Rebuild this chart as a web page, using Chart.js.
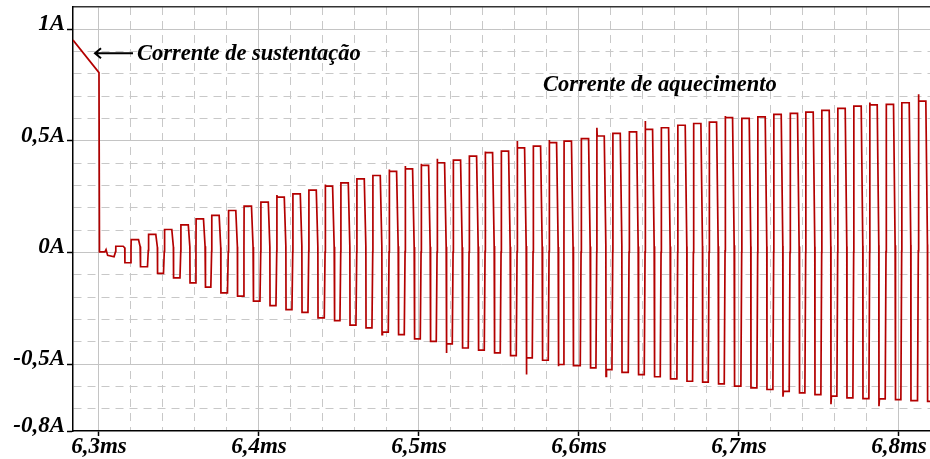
<!doctype html>
<html>

<head>
    <title>Corrente de sustentação / aquecimento</title>
    <script src="https://cdn.jsdelivr.net/npm/chart.js@4.4.1/dist/chart.umd.min.js"></script>
    <style>
    body { margin: 0; background: #fff; }
    </style>
</head>

<body>
    <canvas id="canvas" width="930" height="459"></canvas>
    <script>
    // axis range (ms, A)
    var xMin = 6.28375, xMax = 6.8194;
    var yMin = -0.8, yMax = 1.1;

    // tick labels
    var xTickValues = [6.3, 6.4, 6.5, 6.6, 6.7, 6.8];
    var xTickLabels = ['6,3ms', '6,4ms', '6,5ms', '6,6ms', '6,7ms', '6,8ms'];
    var yTickValues = [-0.8, -0.5, 0, 0.5, 1];
    var yTickLabels = ['-0,8A', '-0,5A', '0A', '0,5A', '1A'];

    // holding current before the pulses start
    var leadTimes  = [6.28375, 6.3000, 6.3003, 6.3037, 6.3044, 6.3054, 6.3094];
    var leadValues = [0.952, 0.806, 0.003, 0.003, 0.013, -0.013, -0.019];

    // heating current: one entry per pulse
    var riseTimes = [6.3104, 6.3200, 6.3308, 6.3408, 6.3511, 6.3606, 6.3704, 6.3808, 6.3906, 6.4011,
                     6.4111, 6.4211, 6.4311, 6.4413, 6.4511, 6.4611, 6.4711, 6.4813, 6.4913, 6.5013,
                     6.5113, 6.5213, 6.5313, 6.5413, 6.5513, 6.5613, 6.5713, 6.5813, 6.5906, 6.6013,
                     6.6111, 6.6211, 6.6313, 6.6413, 6.6513, 6.6617, 6.6715, 6.6813, 6.6913, 6.7017,
                     6.7117, 6.7217, 6.7319, 6.7417, 6.7517, 6.7617, 6.7717, 6.7817, 6.7919, 6.8017,
                     6.8121];
    var highs = [0.028, 0.058, 0.081, 0.103, 0.124, 0.151, 0.166, 0.188, 0.208, 0.226,
                 0.248, 0.263, 0.279, 0.297, 0.312, 0.330, 0.345, 0.363, 0.375, 0.390,
                 0.402, 0.414, 0.432, 0.447, 0.454, 0.469, 0.477, 0.492, 0.499, 0.510,
                 0.522, 0.534, 0.540, 0.552, 0.559, 0.570, 0.578, 0.584, 0.604, 0.601,
                 0.608, 0.619, 0.623, 0.629, 0.637, 0.646, 0.656, 0.661, 0.664, 0.671,
                 0.678];
    var lows = [-0.046, -0.064, -0.094, -0.114, -0.136, -0.155, -0.181, -0.196, -0.218, -0.238,
                -0.256, -0.268, -0.293, -0.305, -0.326, -0.338, -0.357, -0.368, -0.387, -0.398,
                -0.410, -0.428, -0.438, -0.450, -0.462, -0.472, -0.483, -0.502, -0.507, -0.517,
                -0.525, -0.537, -0.547, -0.557, -0.566, -0.577, -0.581, -0.589, -0.599, -0.607,
                -0.614, -0.622, -0.629, -0.637, -0.644, -0.652, -0.655, -0.656, -0.659, -0.664,
                -0.667];
    // overshoots on the edges (null = none)
    var highSpikes = [null, null, null, null, null, null, null, null, null, null,
                      0.257, null, null, 0.305, null, null, null, 0.372, 0.387, 0.398,
                      0.420, null, null, 0.452, null, 0.499, null, 0.504, null, null,
                      0.559, null, null, 0.589, null, null, null, null, 0.611, null,
                      null, null, null, null, null, null, null, 0.672, null, null,
                      0.709];
    var lowSpikes = [null, null, null, null, null, null, null, null, null, null,
                     null, null, null, null, null, null, -0.368, null, null, null,
                     -0.450, null, null, null, null, -0.547, null, -0.510, null, null,
                     -0.555, null, null, null, null, null, null, null, null, null,
                     null, -0.646, null, null, -0.680, null, null, -0.689, null, null,
                     null];

    var annotations = [
        {text: 'Corrente de sustentação', x: 6.32375, y: 0.888, arrow: true},
        {text: 'Corrente de aquecimento', x: 6.5775, y: 0.749, arrow: false}
    ];

    // build the trace
    var trace = [];
    leadTimes.forEach(function(t, i) {
        trace.push({x: t, y: leadValues[i]});
    });
    riseTimes.forEach(function(tr, i) {
        var prevLow = i === 0 ? leadValues[leadValues.length - 1] : lows[i - 1];
        var hs = highSpikes[i] !== null ? highSpikes[i] : highs[i];
        var ls = lowSpikes[i] !== null ? lowSpikes[i] : lows[i];
        var tf = tr + 0.0047;
        trace.push({x: tr - 0.0005, y: prevLow});
        trace.push({x: tr, y: (prevLow + highs[i]) / 2});
        trace.push({x: tr + 0.0001, y: hs});
        trace.push({x: tr + 0.0003, y: highs[i]});
        trace.push({x: tf, y: highs[i]});
        trace.push({x: tf + 0.0010, y: (highs[i] + lows[i]) / 2 + 0.03});
        trace.push({x: tf + 0.0011, y: ls});
        trace.push({x: tf + 0.0014, y: lows[i]});
    });
    trace.push({x: xMax, y: lows[lows.length - 1]});

    // grid positions
    var xGrid = [], yGrid = [];
    for (var i = 630; i <= 682; i += 2) xGrid.push(i / 100);
    for (var j = -8; j <= 11; j++) yGrid.push(j / 10);

    var near = function(a, b) { return Math.abs(a - b) < 1e-6; };
    var isMajorX = function(v) { return xTickValues.some(function(t) { return near(t, v); }); };
    var isMajorY = function(v) { return yTickValues.some(function(t) { return near(t, v); }); };

    var labelFont = {family: '"Liberation Serif", "Times New Roman", serif', size: 23, style: 'italic', weight: 'bold'};
    var dashColor = '#c8c8c8';
    var solidColor = '#c4c4c4';

    var annotationPlugin = {
        id: 'annotations',
        afterDraw: function(chart) {
            var ctx = chart.ctx;
            var xs = chart.scales.x, ys = chart.scales.y;
            ctx.save();
            ctx.font = 'italic bold 22.5px "Liberation Serif", "Times New Roman", serif';
            ctx.fillStyle = '#000';
            ctx.textBaseline = 'middle';
            annotations.forEach(function(a) {
                var px = xs.getPixelForValue(a.x);
                var py = ys.getPixelForValue(a.y);
                ctx.fillText(a.text, px, py);
                if (a.arrow) {
                    var x0 = px - 42, x1 = px - 4;
                    ctx.strokeStyle = '#000';
                    ctx.lineWidth = 2;
                    ctx.beginPath();
                    ctx.moveTo(x1, py - 1);
                    ctx.lineTo(x0, py - 1);
                    ctx.moveTo(x0 + 6, py - 6);
                    ctx.lineTo(x0, py - 1);
                    ctx.lineTo(x0 + 6, py + 4);
                    ctx.stroke();
                }
            });
            ctx.restore();
        }
    };

    var config = {
        type: 'line',
        data: {
            datasets: [{
                data: trace,
                borderColor: '#b30000',
                borderWidth: 1.7,
                pointRadius: 0,
                tension: 0,
                fill: false
            }]
        },
        options: {
            responsive: false,
            animation: false,
            devicePixelRatio: 1,
            parsing: false,
            layout: {padding: {top: 7, right: 0, left: 0, bottom: 0}},
            plugins: {legend: {display: false}, tooltip: {enabled: false}},
            scales: {
                x: {
                    type: 'linear', min: xMin, max: xMax,
                    afterBuildTicks: function(s) { s.ticks = xGrid.map(function(v) { return {value: v}; }); },
                    afterFit: function(s) { s.height = 28; s.paddingLeft = 0; s.paddingRight = 0; },
                    ticks: {
                        autoSkip: false, maxRotation: 0, color: '#000', font: labelFont, padding: -3,
                        callback: function(v) {
                            var k = xTickValues.findIndex(function(t) { return near(t, v); });
                            return k >= 0 ? xTickLabels[k] : '';
                        }
                    },
                    grid: {
                        color: function(c) { return c.tick && isMajorX(c.tick.value) ? 'rgba(0,0,0,0)' : dashColor; },
                        lineWidth: 1,
                        tickLength: 5,
                        tickWidth: 1.5,
                        tickColor: function(c) { return c.tick && isMajorX(c.tick.value) ? '#000' : 'rgba(0,0,0,0)'; }
                    },
                    border: {display: true, color: '#000', width: 1.5, dash: [8, 6]}
                },
                x2: {
                    type: 'linear', position: 'top', min: xMin, max: xMax,
                    afterBuildTicks: function(s) { s.ticks = xTickValues.map(function(v) { return {value: v}; }); },
                    afterFit: function(s) { s.height = 0; s.paddingLeft = 0; s.paddingRight = 0; },
                    ticks: {display: false},
                    grid: {color: solidColor, lineWidth: 1, drawTicks: false},
                    border: {display: true, color: '#333', width: 1.5}
                },
                y: {
                    type: 'linear', min: yMin, max: yMax,
                    afterBuildTicks: function(s) { s.ticks = yGrid.map(function(v) { return {value: v}; }); },
                    afterFit: function(s) { s.width = 73; s.paddingTop = 0; s.paddingBottom = 0; },
                    ticks: {
                        autoSkip: false, color: '#000', font: labelFont, padding: 2, labelOffset: -5,
                        callback: function(v) {
                            var k = yTickValues.findIndex(function(t) { return near(t, v); });
                            return k >= 0 ? yTickLabels[k] : '';
                        }
                    },
                    grid: {
                        color: function(c) { return c.tick && (isMajorY(c.tick.value) || near(c.tick.value, yMax)) ? 'rgba(0,0,0,0)' : dashColor; },
                        lineWidth: 1,
                        tickLength: 6,
                        tickWidth: 1.5,
                        tickColor: function(c) { return c.tick && isMajorY(c.tick.value) ? '#000' : 'rgba(0,0,0,0)'; }
                    },
                    border: {display: true, color: '#000', width: 1.5, dash: [8, 6]}
                },
                y2: {
                    type: 'linear', position: 'right', min: yMin, max: yMax,
                    afterBuildTicks: function(s) { s.ticks = [-0.5, 0, 0.5, 1].map(function(v) { return {value: v}; }); },
                    afterFit: function(s) { s.width = 0; s.paddingTop = 0; s.paddingBottom = 0; },
                    ticks: {display: false},
                    grid: {color: solidColor, lineWidth: 1, drawTicks: false},
                    border: {display: false}
                }
            }
        },
        plugins: [annotationPlugin]
    };

    window.onload = function() {
        window.myChart = new Chart(document.getElementById('canvas'), config);
    };
    </script>
</body>

</html>
